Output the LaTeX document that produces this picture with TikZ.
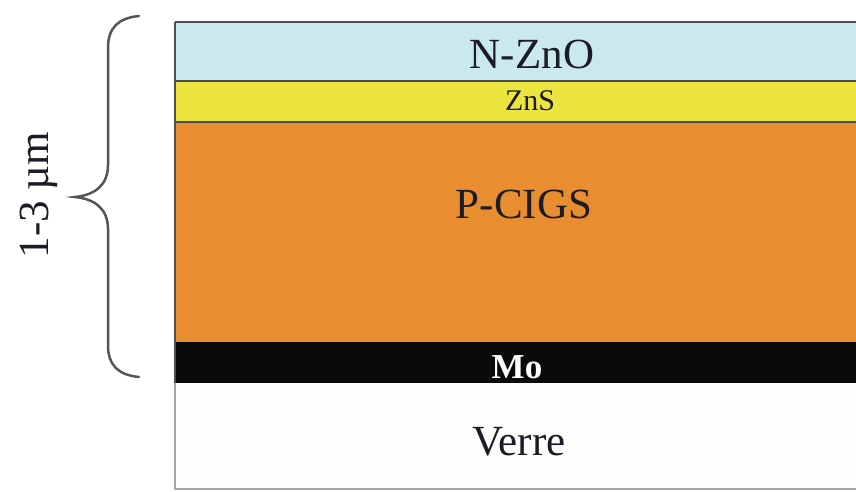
\documentclass[tikz,border=0pt]{standalone}
\usepackage{fontspec}
\setmainfont{Liberation Serif}
\definecolor{zno}{HTML}{C9E9EC}
\definecolor{zns}{HTML}{ECE540}
\definecolor{cigs}{HTML}{E88E30}
\definecolor{mo}{HTML}{0A0A0A}
\definecolor{verre}{HTML}{FDFDFB}
\definecolor{edgegrey}{HTML}{4A4E50}
\definecolor{txt}{HTML}{1C1C26}
\definecolor{bracegrey}{HTML}{555555}
\begin{document}
\begin{tikzpicture}[x=1pt,y=-1pt,
  sep/.style={draw=edgegrey, line width=2.5pt},
  lbl/.style={font=\fontsize{43}{48}\selectfont, text=txt, inner sep=0pt, anchor=base},
  brace/.style={draw=bracegrey, line width=2.5pt, line cap=round}]
\useasboundingbox (0,0) rectangle (856,491);
\begin{scope}
\clip (0,0) rectangle (856,491);
\fill[verre] (175,382) rectangle (870,489);
\fill[mo] (175,342) rectangle (870,383);
\fill[cigs] (175,122) rectangle (870,342);
\fill[zns] (175,81) rectangle (870,122);
\fill[zno] (175,22) rectangle (870,81);
\draw[sep] (175,22) -- (870,22);
\draw[sep] (175,81) -- (870,81);
\draw[sep] (175,122) -- (870,122);
\draw[draw=gray!70, line width=1.5pt] (175,383) -- (175,489) -- (870,489);
\draw[sep] (175,22) -- (175,383);
\end{scope}
\node[lbl] (nzno) at (532,68) {N-ZnO};
\node[lbl, font=\fontsize{30}{34}\selectfont] (zns) at (530,110) {ZnS};
\node[lbl] (pcigs) at (524,218) {P-CIGS};
\node[lbl, font=\fontsize{35}{40}\selectfont\bfseries, text=white] (mo) at (517,378) {Mo};
\node[lbl] (verre) at (519,455) {Verre};
\coordinate (btop) at (139,16);
\coordinate (btip) at (75,197);
\coordinate (bbot) at (139,377);
\draw[brace] (btop) .. controls (118,18) and (108,28) .. (108,48)
  -- (108,165) .. controls (108,185) and (95,195) .. (btip)
  .. controls (95,199) and (108,209) .. (108,229)
  -- (108,345) .. controls (108,365) and (118,375) .. (bbot);
\node[lbl, rotate=90] (thick) at (48,195) {1-3 µm};
\end{tikzpicture}
\end{document}
